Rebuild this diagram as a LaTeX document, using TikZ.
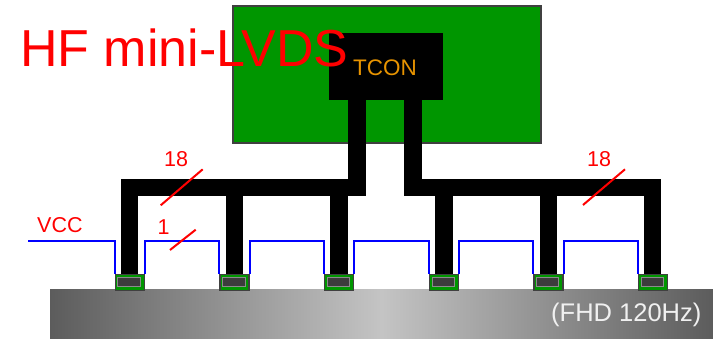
\documentclass[tikz,border=0pt]{standalone}
\usepackage{fontspec}
\setmainfont{Liberation Sans}
\definecolor{boardgreen}{HTML}{009600}
\definecolor{edgegray}{HTML}{404040}
\definecolor{tcontext}{HTML}{E89400}
\definecolor{wireblue}{HTML}{0000FF}
\definecolor{chipcore}{HTML}{3C3C3C}
\definecolor{chiprim}{HTML}{8C8C8C}
\definecolor{panelend}{HTML}{5C5C5C}
\definecolor{panelmid}{HTML}{C4C4C4}
\tikzset{
  boardbox/.style={draw=edgegray,line width=1.6pt,fill=boardgreen,inner sep=0pt,minimum width=308pt,minimum height=137pt},
  tconbox/.style={fill=black,inner sep=0pt,minimum width=114pt,minimum height=67pt},
  chipbox/.style={draw=edgegray,line width=1.6pt,fill=boardgreen,inner sep=0pt,minimum width=29pt,minimum height=16pt},
  corebox/.style={draw=chiprim,line width=1pt,fill=chipcore,inner sep=0pt,minimum width=22.5pt,minimum height=9pt},
  bus/.style={line width=17.5pt,black,line cap=butt,line join=miter},
  wire/.style={draw=wireblue,line width=2pt,line join=miter},
  tick/.style={red,line width=2pt},
  redlabel/.style={anchor=base west,inner sep=0pt,text=red,font=\fontsize{21.5pt}{24pt}\selectfont},
  titlelabel/.style={anchor=base west,inner sep=0pt,text=red,font=\fontsize{52pt}{56pt}\selectfont},
  tconlabel/.style={anchor=base west,inner sep=0pt,text=tcontext,font=\fontsize{22.5pt}{25pt}\selectfont},
  paneltext/.style={anchor=base west,inner sep=0pt,text=white!94!black,font=\fontsize{25.5pt}{28pt}\selectfont}
}
\begin{document}
\begin{tikzpicture}[x=1pt,y=-1pt]
\useasboundingbox (0,0) rectangle (713,339);
% panel
\shade[left color=panelend,right color=panelend,middle color=panelmid] (50,289.5) rectangle (713,339);
% board and controller
\node[boardbox] (board) at (386.8,74.8) {};
\node[tconbox] (tcon) at (386,66.5) {};
% bus coordinates
\coordinate (stemL) at (357,100);
\coordinate (stemR) at (413,100);
\coordinate (cornerL) at (357,187.5);
\coordinate (cornerR) at (413,187.5);
\coordinate (busL) at (129.5,187.5);
\coordinate (busR) at (652.5,187.5);
% chips
\node[chipbox] (chip1) at (130,282.5) {};
\node[chipbox] (chip2) at (234.5,282.5) {};
\node[chipbox] (chip3) at (339,282.5) {};
\node[chipbox] (chip4) at (444,282.5) {};
\node[chipbox] (chip5) at (548.3,282.5) {};
\node[chipbox] (chip6) at (653,282.5) {};
\node[corebox] (core1) at (129,282) {};
\node[corebox] (core2) at (233.8,282) {};
\node[corebox] (core3) at (338.3,282) {};
\node[corebox] (core4) at (443.3,282) {};
\node[corebox] (core5) at (547.6,282) {};
\node[corebox] (core6) at (652.3,282) {};
% buses
\draw[bus] (stemL) -- (cornerL) -- ([xshift=-8.75pt]busL);
\draw[bus] (stemR) -- (cornerR) -- ([xshift=8.75pt]busR);
\draw[bus] ([yshift=-8.75pt]busL) -- (busL |- chip1.north);
\draw[bus] ([yshift=-8.75pt]busR) -- (busR |- chip6.north);
\draw[bus] (chip2.north |- cornerL) -- (chip2.north);
\draw[bus] (chip3.north |- cornerL) -- (chip3.north);
\draw[bus] (chip4.north |- cornerR) -- (chip4.north);
\draw[bus] (chip5.north |- cornerR) -- (chip5.north);
% wires
\coordinate (vccstart) at (28,241);
\coordinate (w1) at (180,241);
\coordinate (w2) at (285,241);
\coordinate (w3) at (390,241);
\coordinate (w4) at (495,241);
\coordinate (w5) at (600,241);
\draw[wire] (vccstart) -| (chip1.north west);
\draw[wire] (chip1.north east) |- (w1) -| (chip2.north west);
\draw[wire] (chip2.north east) |- (w2) -| (chip3.north west);
\draw[wire] (chip3.north east) |- (w3) -| (chip4.north west);
\draw[wire] (chip4.north east) |- (w4) -| (chip5.north west);
\draw[wire] (chip5.north east) |- (w5) -| (chip6.north west);
% ticks
\coordinate (t1a) at (160.7,205.3); \coordinate (t1b) at (202.7,169.3);
\coordinate (t2a) at (170,250); \coordinate (t2b) at (195.7,229.7);
\coordinate (t3a) at (583,205); \coordinate (t3b) at (625,169.3);
\draw[tick] (t1a) -- (t1b);
\draw[tick] (t2a) -- (t2b);
\draw[tick] (t3a) -- (t3b);
% labels
\node[tconlabel] (tconlab) at (353,76) {TCON};
\node[titlelabel] (title) at (20,67) {HF mini-LVDS};
\node[redlabel] (n18a) at (164,166.7) {18};
\node[redlabel] (n18b) at (587,166.7) {18};
\node[redlabel] (n1) at (157.5,235) {1};
\node[redlabel] (vcc) at (37,232.7) {VCC};
\node[paneltext] (fhd) at (551,321.7) {(FHD 120Hz)};
\end{tikzpicture}
\end{document}
